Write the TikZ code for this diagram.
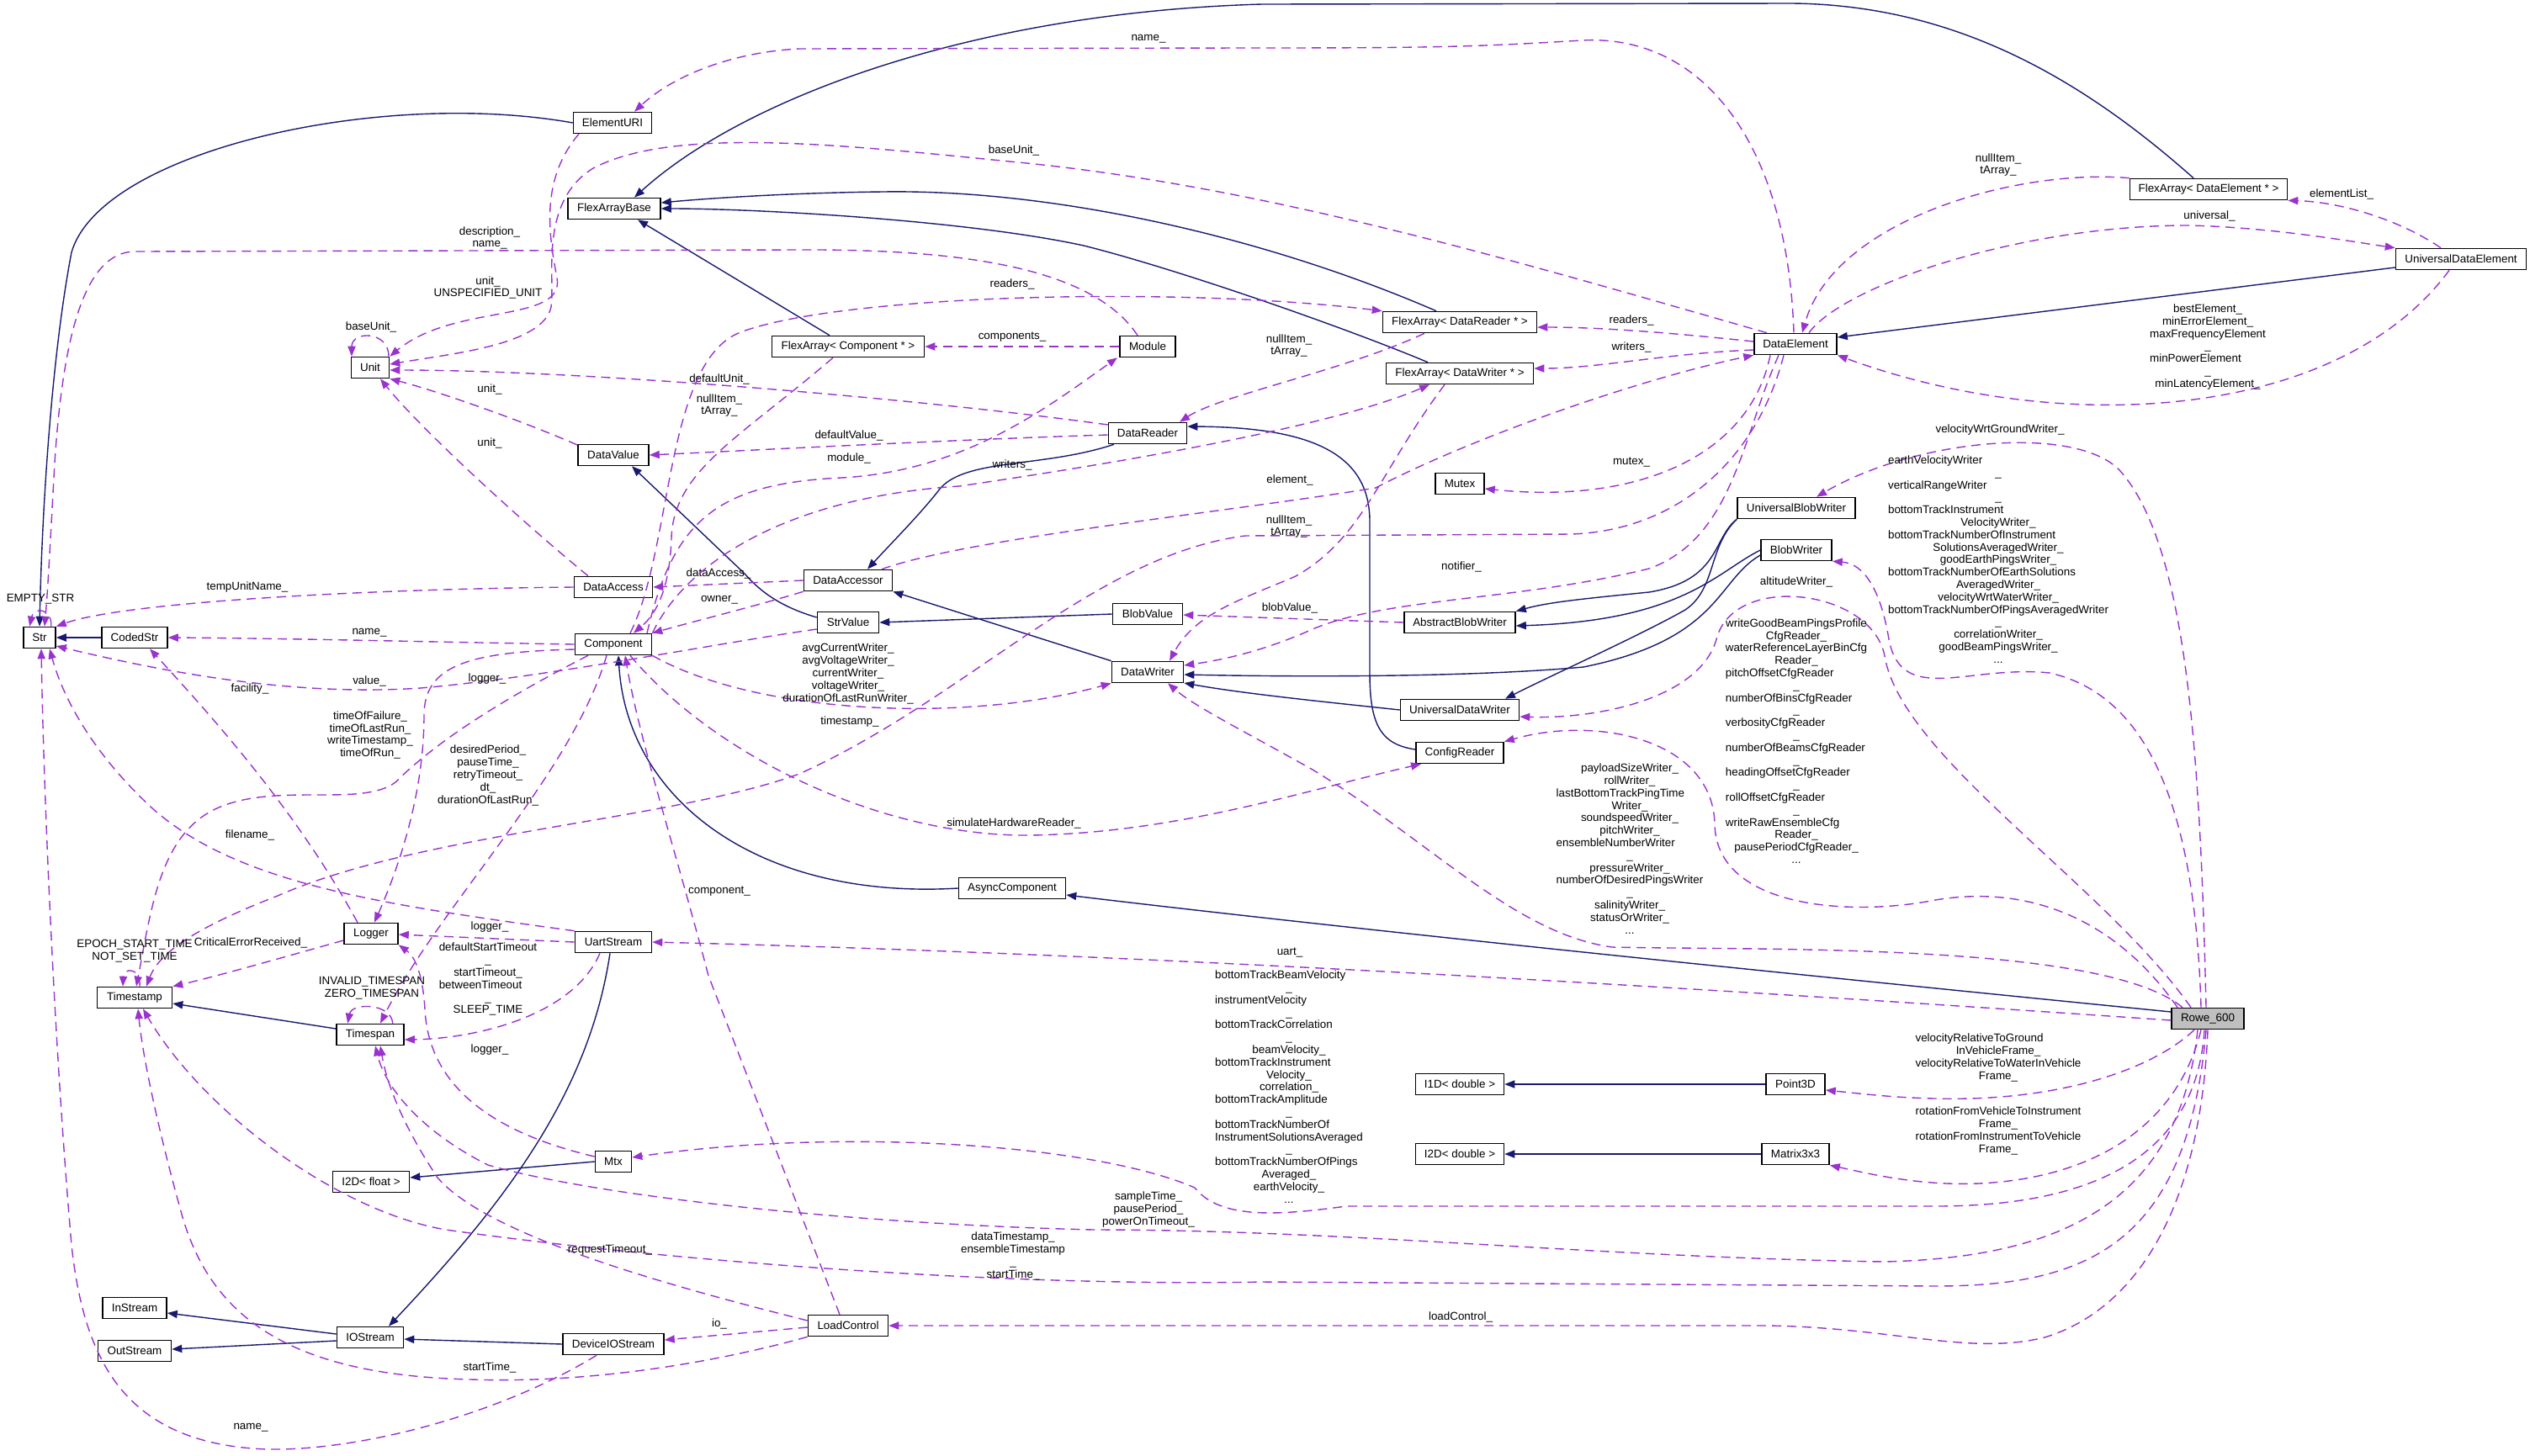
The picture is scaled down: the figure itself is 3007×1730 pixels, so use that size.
\documentclass[tikz,border=0pt]{standalone}
\usepackage{fontspec}
\setmainfont{Liberation Sans}
\usetikzlibrary{arrows.meta}
\definecolor{inhBlue}{HTML}{191970}
\definecolor{usePurple}{HTML}{9A32CD}
\definecolor{mainGray}{HTML}{BFBFBF}
\newcommand{\ml}[1]{\multicolumn{1}{@{}l@{}}{#1}}

\begin{document}
\begin{tikzpicture}[x=0.5pt, y=-0.5pt, font=\fontsize{6.7}{7.4}\selectfont,
        >={Triangle[length=6pt,width=4.6pt]},
        cls/.style={draw=black, line width=0.8pt, fill=white, minimum height=12.5pt, inner xsep=0pt, inner ysep=0pt},
        inh/.style={->, inhBlue, line width=0.7pt},
        usage/.style={->, usePurple, line width=0.7pt, dash pattern=on 5.5pt off 3.5pt},
        lbl/.style={inner sep=0pt, align=center}]
    \useasboundingbox (0,0) rectangle (3007,1730);

    \node[cls, minimum width=19pt] (str) at (47,758) {Str};
    \node[cls, minimum width=39pt] (codedstr) at (160,758) {CodedStr};
    \node[cls, minimum width=46.5pt] (elementuri) at (728,146) {ElementURI};
    \node[cls, minimum width=55pt] (flexbase) at (730,248) {FlexArrayBase};
    \node[cls, minimum width=22.5pt] (unit) at (440,437) {Unit};
    \node[cls, minimum width=42pt] (datavalue) at (729,541) {DataValue};
    \node[cls, minimum width=46.5pt] (dataaccess) at (729,698) {DataAccess};
    \node[cls, minimum width=45.5pt] (component) at (729,766) {Component};
    \node[cls, minimum width=32pt] (logger) at (441,1110) {Logger};
    \node[cls, minimum width=45.5pt] (uart) at (729,1120) {UartStream};
    \node[cls, minimum width=44.5pt] (timestamp) at (160,1186) {Timestamp};
    \node[cls, minimum width=40pt] (timespan) at (440,1230) {Timespan};
    \node[cls, minimum width=21.5pt] (mtx) at (729,1381) {Mtx};
    \node[cls, minimum width=45.5pt] (i2dfloat) at (441,1405) {I2D< float >};
    \node[cls, minimum width=38pt] (instream) at (160,1555) {InStream};
    \node[cls, minimum width=39.5pt] (iostream) at (440,1590) {IOStream};
    \node[cls, minimum width=43.5pt] (outstream) at (160,1606) {OutStream};
    \node[cls, minimum width=60pt] (deviceio) at (729,1598) {DeviceIOStream};
    \node[cls, minimum width=90.5pt] (flexcomp) at (1008,412) {FlexArray< Component * >};
    \node[cls, minimum width=33pt] (module) at (1364,412) {Module};
    \node[cls, minimum width=46.5pt] (datareader) at (1364,515) {DataReader};
    \node[cls, minimum width=52.5pt] (dataaccessor) at (1008,690) {DataAccessor};
    \node[cls, minimum width=36.5pt] (strvalue) at (1008,740) {StrValue};
    \node[cls, minimum width=41.5pt] (blobvalue) at (1364,730) {BlobValue};
    \node[cls, minimum width=42.5pt] (datawriter) at (1364,799) {DataWriter};
    \node[cls, minimum width=63.5pt] (asynccomp) at (1203,1056) {AsyncComponent};
    \node[cls, minimum width=47.5pt] (loadcontrol) at (1008,1576) {LoadControl};
    \node[cls, minimum width=91.5pt] (flexreader) at (1735,383) {FlexArray< DataReader * >};
    \node[cls, minimum width=87.5pt] (flexwriter) at (1735,444) {FlexArray< DataWriter * >};
    \node[cls, minimum width=29pt] (mutex) at (1735,575) {Mutex};
    \node[cls, minimum width=66pt] (abstractblob) at (1735,740) {AbstractBlobWriter};
    \node[cls, minimum width=70.5pt] (univdatawriter) at (1735,844) {UniversalDataWriter};
    \node[cls, minimum width=52pt] (configreader) at (1735,895) {ConfigReader};
    \node[cls, minimum width=52.5pt] (i1ddouble) at (1735,1289) {I1D< double >};
    \node[cls, minimum width=52.5pt] (i2ddouble) at (1735,1372) {I2D< double >};
    \node[cls, minimum width=49pt] (dataelement) at (2134,409) {DataElement};
    \node[cls, minimum width=70pt] (univblob) at (2135,604) {UniversalBlobWriter};
    \node[cls, minimum width=42pt] (blobwriter) at (2135,654) {BlobWriter};
    \node[cls, minimum width=35pt] (point3d) at (2134,1289) {Point3D};
    \node[cls, minimum width=40pt] (matrix) at (2134,1372) {Matrix3x3};
    \node[cls, minimum width=93.5pt] (flexelement) at (2625,225) {FlexArray< DataElement * >};
    \node[cls, minimum width=77.5pt] (univelement) at (2925,308) {UniversalDataElement};
    \node[cls, minimum width=43pt, fill=mainGray] (rowe) at (2624,1211) {Rowe\_600};

    \draw[inh] (codedstr.west) -- (str.east);
    \draw[inh] (elementuri.west) .. controls (450,105) and (120,180) .. (85,300) .. controls (62,420) and (50,600) .. (str.north);
    \draw[inh] ([xshift=-9pt]flexelement.north) .. controls (2470,90) and (2320,6) .. (2130,4) -- (1500,5) .. controls (1150,15) and (880,120) .. ([xshift=12pt]flexbase.north);
    \draw[inh] ([xshift=-14pt]flexreader.north) .. controls (1500,280) and (1250,225) .. (1050,228) .. controls (950,229) and (850,235) .. ([yshift=3.5pt]flexbase.east);
    \draw[inh] ([xshift=-19pt]flexwriter.north) .. controls (1600,390) and (1400,320) .. (1288,292) .. controls (1150,262) and (900,248) .. (flexbase.east);
    \draw[inh] ([xshift=-11pt]flexcomp.north) -- ([xshift=14pt]flexbase.south);
    \draw[inh] ([yshift=-5pt]univelement.west) -- ([yshift=4pt]dataelement.east);
    \draw[inh] ([xshift=-20pt]datareader.south) .. controls (1240,556) and (1150,545) .. (1118,580) .. controls (1095,610) and (1060,645) .. ([xshift=11.5pt]dataaccessor.north);
    \draw[inh] (datawriter.north west) -- (dataaccessor.south east);
    \draw[inh] (blobvalue.west) -- (strvalue.east);
    \draw[inh] ([yshift=3pt]strvalue.west) .. controls (930,722) and (905,705) .. (885,682) -- ([xshift=11pt]datavalue.south);
    \draw[inh] (univblob.south west) .. controls (2035,640) and (2045,690) .. (1960,704) .. controls (1880,712) and (1840,716) .. (abstractblob.north east);
    \draw[inh] (univblob.south west) .. controls (2030,650) and (2040,700) .. (2003,725) .. controls (1950,755) and (1850,800) .. ([xshift=27pt]univdatawriter.north);
    \draw[inh] (blobwriter.west) .. controls (2040,680) and (2000,738) .. ([yshift=-2pt]abstractblob.east);
    \draw[inh] ([yshift=-3pt]blobwriter.west) .. controls (2040,690) and (2045,760) .. (1882,793) .. controls (1750,805) and (1550,805) .. ([yshift=-1.5pt]datawriter.east);
    \draw[inh] (univdatawriter.west) .. controls (1580,835) and (1480,825) .. ([yshift=-6.5pt]datawriter.east);
    \draw[inh] ([yshift=2pt]configreader.west) .. controls (1640,885) and (1628,860) .. (1628,800) -- (1628,620) .. controls (1628,540) and (1560,508) .. ([yshift=4pt]datareader.east);
    \draw[inh] (asynccomp.west) .. controls (900,1070) and (745,950) .. ([xshift=3pt]component.south);
    \draw[inh] ([yshift=4pt]rowe.west) .. controls (2250,1170) and (1650,1110) .. ([yshift=-4pt]asynccomp.east);
    \draw[inh] ([xshift=-2pt]uart.south) .. controls (700,1300) and (600,1430) .. ([xshift=11pt]iostream.north);
    \draw[inh] ([yshift=2pt]iostream.west) -- ([yshift=-3pt]instream.east);
    \draw[inh] ([yshift=-2pt]iostream.west) -- ([yshift=1pt]outstream.east);
    \draw[inh] (deviceio.west) -- ([yshift=-1pt]iostream.east);
    \draw[inh] ([yshift=3.5pt]timespan.west) -- ([yshift=-3.5pt]timestamp.east);
    \draw[inh] (mtx.west) -- ([yshift=2.5pt]i2dfloat.east);
    \draw[inh] (point3d.west) -- (i1ddouble.east);
    \draw[inh] (matrix.west) -- (i2ddouble.east);

    \draw[usage] ([xshift=-1pt]dataelement.north) .. controls (2125,180) and (2030,40) .. (1880,48) .. controls (1750,56) and (1700,57) .. (1480,57) -- (950,58) .. controls (870,62) and (800,90) .. ([xshift=13pt]elementuri.north);
    \node[lbl] (l-name1) at (1365,46) {name\_};
    \draw[usage] ([xshift=-17pt]dataelement.north) .. controls (1800,310) and (1500,220) .. (1200,192) .. controls (1000,172) and (800,150) .. (705,200) .. controls (640,240) and (660,330) .. (655,365) .. controls (645,410) and (540,420) .. ([yshift=2pt]unit.east);
    \node[lbl] (l-baseunit1) at (1205,179) {baseUnit\_};
    \draw[usage] ([xshift=-20pt]elementuri.south) .. controls (645,210) and (650,270) .. (662,330) .. controls (672,385) and (540,360) .. (unit.north east);
    \node[lbl] (l-unit0) at (580,342) {unit\_\\UNSPECIFIED\_UNIT};
    \draw[usage] ([xshift=-6pt]module.north) .. controls (1300,320) and (1150,296) .. (950,297) -- (160,299) .. controls (100,300) and (75,400) .. (65,550) .. controls (60,640) and (57,700) .. ([xshift=3pt]str.north);
    \node[lbl] (l-desc) at (582,283) {description\_\\name\_};
    \draw[usage] ([yshift=5pt]datareader.west) .. controls (1100,475) and (700,440) .. ([yshift=-1.5pt]unit.east);
    \node[lbl] (l-defunit) at (855,451) {defaultUnit\_};
    \draw[usage] ([yshift=6pt]datavalue.west) .. controls (620,500) and (520,465) .. (unit.south east);
    \node[lbl] (l-unit1) at (582,463) {unit\_};
    \draw[usage] ([xshift=-15pt]dataaccess.north) .. controls (620,620) and (500,510) .. ([xshift=6pt]unit.south);
    \node[lbl] (l-unit2) at (582,527) {unit\_};
    \draw[usage] ([xshift=11pt]unit.north) .. controls (462,393) and (418,393) .. ([xshift=-11pt]unit.north);
    \node[lbl] (l-baseunit2) at (441,389) {baseUnit\_};
    \draw[usage] (dataaccess.west) .. controls (450,700) and (150,715) .. (str.north east);
    \node[lbl] (l-tempunit) at (294,698) {tempUnitName\_};
    \draw[usage] (component.west) .. controls (500,763) and (350,759) .. (codedstr.east);
    \node[lbl] (l-name2) at (439,752) {name\_};
    \draw[usage] ([yshift=-4pt]strvalue.west) .. controls (850,765) and (650,805) .. (500,818) .. controls (350,828) and (200,800) .. ([yshift=-5pt]str.east);
    \node[lbl] (l-value) at (439,810) {value\_};
    \draw[usage] ([xshift=-8pt]logger.north) .. controls (350,960) and (250,850) .. ([xshift=9pt]codedstr.south);
    \node[lbl] (l-facility) at (297,819) {facility\_};
    \draw[usage] ([yshift=-3pt]component.west) .. controls (560,775) and (504,790) .. (504,850) .. controls (504,950) and (470,1040) .. ([xshift=2pt]logger.north);
    \node[lbl] (l-logger1) at (579,807) {logger\_};
    \draw[usage] ([xshift=-15pt]component.south) .. controls (600,830) and (520,880) .. (470,930) .. controls (430,960) and (330,930) .. (260,960) .. controls (190,990) and (180,1080) .. ([xshift=1pt]timestamp.north);
    \node[lbl] (l-timeof) at (440,874) {timeOfFailure\_\\timeOfLastRun\_\\writeTimestamp\_\\timeOfRun\_};
    \draw[usage] ([xshift=-4pt]component.south) .. controls (680,920) and (520,1080) .. ([xshift=6pt]timespan.north);
    \node[lbl] (l-desired) at (580,922) {desiredPeriod\_\\pauseTime\_\\retryTimeout\_\\dt\_\\durationOfLastRun\_};
    \draw[usage] (dataaccessor.south west) .. controls (900,720) and (820,740) .. (component.north east);
    \node[lbl] (l-owner) at (855,713) {owner\_};
    \draw[usage] (dataaccessor.west) -- (dataaccess.east);
    \node[lbl] (l-dataaccess) at (854,682) {dataAccess\_};
    \draw[usage] ([xshift=10pt]component.north) .. controls (800,650) and (790,430) .. (880,395) .. controls (1000,350) and (1400,340) .. (flexreader.north west);
    \node[lbl] (l-readers1) at (1203,338) {readers\_};
    \draw[usage] ([xshift=-9pt]flexcomp.south) .. controls (880,520) and (800,560) .. (798,640) .. controls (796,700) and (780,730) .. ([xshift=12pt]component.north);
    \node[lbl] (l-nullcomp) at (855,482) {nullItem\_\\tArray\_};
    \draw[usage] (module.west) -- (flexcomp.east);
    \node[lbl] (l-components) at (1203,401) {components\_};
    \draw[usage] ([xshift=20pt]component.north) .. controls (800,620) and (850,575) .. (1000,568) .. controls (1150,560) and (1250,480) .. ([xshift=-18pt]module.south);
    \node[lbl] (l-module) at (1009,545) {module\_};
    \draw[usage] ([yshift=-1pt]datareader.west) .. controls (1150,522) and (900,535) .. (datavalue.east);
    \node[lbl] (l-defvalue) at (1009,518) {defaultValue\_};
    \draw[usage] (component.north east) .. controls (820,660) and (950,590) .. (1140,578) .. controls (1400,540) and (1600,500) .. ([xshift=-18pt]flexwriter.south);
    \node[lbl] (l-writers1) at (1203,553) {writers\_};
    \draw[usage] ([yshift=1.5pt]dataelement.west) .. controls (1980,395) and (1900,389) .. ([yshift=-3pt]flexreader.east);
    \node[lbl] (l-readers2) at (1939,381) {readers\_};
    \draw[usage] ([yshift=-3.5pt]dataelement.west) .. controls (1980,420) and (1900,438) .. ([yshift=3pt]flexwriter.east);
    \node[lbl] (l-writers2) at (1939,413) {writers\_};
    \draw[usage] ([xshift=-21pt]flexreader.south) .. controls (1600,440) and (1450,470) .. ([xshift=19pt]datareader.north);
    \node[lbl] (l-nullreader) at (1532,411) {nullItem\_\\tArray\_};
    \draw[usage] ([xshift=-9pt]flexwriter.south) .. controls (1640,560) and (1620,640) .. (1540,685) .. controls (1470,715) and (1420,730) .. ([xshift=13pt]datawriter.north);
    \node[lbl] (l-nullwriter) at (1532,626) {nullItem\_\\tArray\_};
    \draw[usage] ([xshift=20pt]dataaccessor.north) .. controls (1150,640) and (1450,610) .. (1635,580) .. controls (1750,520) and (1950,450) .. (dataelement.south west);
    \node[lbl] (l-element) at (1533,571) {element\_};
    \draw[usage] ([xshift=-15pt]dataelement.south) .. controls (2080,540) and (1950,600) .. ([yshift=-3pt]mutex.east);
    \node[lbl] (l-mutex) at (1939,549) {mutex\_};
    \draw[usage] ([xshift=-10pt]dataelement.south) .. controls (2070,520) and (2060,640) .. (1960,676) .. controls (1800,715) and (1650,710) .. (1560,748) .. controls (1500,775) and (1450,785) .. ([yshift=4pt]datawriter.east);
    \node[lbl] (l-notifier) at (1737,674) {notifier\_};
    \draw[usage] ([xshift=-7pt]dataelement.south) .. controls (2090,540) and (2000,630) .. (1868,635) -- (1480,637) .. controls (1300,660) and (1150,830) .. (950,920) .. controls (800,975) and (500,990) .. (330,1065) .. controls (240,1100) and (190,1130) .. ([xshift=7pt]timestamp.north);
    \node[lbl] (l-timestamp) at (1010,858) {timestamp\_};
    \draw[usage] (abstractblob.west) -- ([yshift=-0.5pt]blobvalue.east);
    \node[lbl] (l-blobvalue) at (1533,723) {blobValue\_};
    \draw[usage] ([xshift=8pt]dataelement.north) .. controls (2190,340) and (2400,268) .. (2600,268) .. controls (2700,270) and (2800,288) .. (univelement.north west);
    \node[lbl] (l-universal) at (2626,257) {universal\_};
    \draw[usage] ([xshift=-12pt]univelement.north) .. controls (2850,260) and (2780,240) .. (flexelement.south east);
    \node[lbl] (l-elementlist) at (2783,231) {elementList\_};
    \draw[usage] (flexelement.north west) .. controls (2400,200) and (2180,260) .. ([xshift=4pt]dataelement.north);
    \node[lbl] (l-nullelement) at (2375,196) {nullItem\_\\tArray\_};
    \draw[usage] ([xshift=-7pt]univelement.south) .. controls (2780,500) and (2450,520) .. (dataelement.south east);
    \node[lbl] (l-best) at (2624,413) {\begin{tabular}{@{}c@{}}bestElement\_\\minErrorElement\_\\maxFrequencyElement\\\_\\\ml{minPowerElement}\\\_\\minLatencyElement\_\end{tabular}};

    \draw[usage] ([xshift=-1pt]rowe.north) .. controls (2615,900) and (2600,650) .. (2520,560) .. controls (2470,505) and (2280,520) .. ([xshift=12pt]univblob.north);
    \node[lbl] (l-velground) at (2377,511) {velocityWrtGroundWriter\_};
    \draw[usage] ([xshift=-4pt]rowe.north) .. controls (2610,1000) and (2570,830) .. (2436,800) .. controls (2340,790) and (2260,840) .. (2245,760) .. controls (2235,700) and (2215,670) .. (blobwriter.south east);
    \node[lbl] (l-earth) at (2375,667) {\begin{tabular}{@{}c@{}}\ml{earthVelocityWriter}\\\_\\\ml{verticalRangeWriter}\\\_\\\ml{bottomTrackInstrument}\\VelocityWriter\_\\\ml{bottomTrackNumberOfInstrument}\\SolutionsAveragedWriter\_\\goodEarthPingsWriter\_\\\ml{bottomTrackNumberOfEarthSolutions}\\AveragedWriter\_\\velocityWrtWaterWriter\_\\bottomTrackNumberOfPingsAveragedWriter\\\_\\correlationWriter\_\\goodBeamPingsWriter\_\\...\end{tabular}};
    \draw[usage] ([xshift=-10pt]rowe.north) .. controls (2500,1050) and (2260,900) .. (2240,780) .. controls (2225,700) and (2060,680) .. (2040,760) .. controls (2020,830) and (1900,855) .. ([yshift=-4pt]univdatawriter.east);
    \node[lbl] (l-altitude) at (2135,692) {altitudeWriter\_};
    \draw[usage] ([xshift=-18pt]rowe.north) .. controls (2520,1100) and (2420,1050) .. (2300,1070) .. controls (2200,1090) and (2040,1080) .. (2038,980) .. controls (2036,880) and (1900,850) .. (configreader.north east);
    \node[lbl] (l-cfg) at (2135,883) {\begin{tabular}{@{}c@{}}writeGoodBeamPingsProfile\\CfgReader\_\\waterReferenceLayerBinCfg\\Reader\_\\\ml{pitchOffsetCfgReader}\\\_\\\ml{numberOfBinsCfgReader}\\\_\\\ml{verbosityCfgReader}\\\_\\\ml{numberOfBeamsCfgReader}\\\_\\\ml{headingOffsetCfgReader}\\\_\\\ml{rollOffsetCfgReader}\\\_\\\ml{writeRawEnsembleCfg}\\Reader\_\\pausePeriodCfgReader\_\\...\end{tabular}};
    \draw[usage] ([xshift=-15pt]rowe.north) .. controls (2500,1120) and (2100,1130) .. (1916,1126) .. controls (1800,1110) and (1700,1000) .. (1560,915) .. controls (1480,870) and (1420,840) .. ([xshift=12pt]datawriter.south);
    \node[lbl] (l-payload) at (1937,1011) {\begin{tabular}{@{}c@{}}payloadSizeWriter\_\\rollWriter\_\\\ml{lastBottomTrackPingTime}\\Writer\_\\soundspeedWriter\_\\pitchWriter\_\\\ml{ensembleNumberWriter}\\\_\\pressureWriter\_\\numberOfDesiredPingsWriter\\\_\\salinityWriter\_\\statusOrWriter\_\\...\end{tabular}};
    \draw[usage] ([yshift=-1pt]rowe.west) .. controls (2100,1180) and (1400,1135) .. (uart.east);
    \node[lbl] (l-uart) at (1533,1132) {uart\_};
    \draw[usage] ([xshift=-2pt]rowe.south) .. controls (2610,1380) and (2480,1434) .. (2300,1434) -- (1600,1434) .. controls (1520,1445) and (1450,1450) .. (1420,1412) .. controls (1300,1360) and (1000,1340) .. ([yshift=2.5pt]mtx.east);
    \node[lbl] (l-btbeam) at (1532,1294) {\begin{tabular}{@{}c@{}}\ml{bottomTrackBeamVelocity}\\\_\\\ml{instrumentVelocity}\\\_\\\ml{bottomTrackCorrelation}\\\_\\beamVelocity\_\\\ml{bottomTrackInstrument}\\Velocity\_\\correlation\_\\\ml{bottomTrackAmplitude}\\\_\\\ml{bottomTrackNumberOf}\\InstrumentSolutionsAveraged\\\_\\\ml{bottomTrackNumberOfPings}\\Averaged\_\\earthVelocity\_\\...\end{tabular}};
    \draw[usage] ([xshift=-8pt]rowe.south) .. controls (2560,1270) and (2450,1310) .. (2300,1306) .. controls (2250,1305) and (2210,1300) .. ([yshift=-3.5pt]point3d.east);
    \node[lbl] (l-velrel) at (2375,1258) {\begin{tabular}{@{}c@{}}\ml{velocityRelativeToGround}\\InVehicleFrame\_\\velocityRelativeToWaterInVehicle\\Frame\_\end{tabular}};
    \draw[usage] ([xshift=-4pt]rowe.south) .. controls (2590,1330) and (2500,1400) .. (2352,1407) .. controls (2280,1410) and (2220,1395) .. (matrix.south east);
    \node[lbl] (l-rotation) at (2375,1345) {\begin{tabular}{@{}c@{}}rotationFromVehicleToInstrument\\Frame\_\\\ml{rotationFromInstrumentToVehicle}\\Frame\_\end{tabular}};
    \draw[usage] ([xshift=-6pt]rowe.south) .. controls (2590,1430) and (2450,1495) .. (2240,1500) .. controls (1900,1495) and (1600,1462) .. (1300,1462) .. controls (1000,1455) and (700,1420) .. (580,1385) .. controls (510,1350) and (460,1300) .. ([xshift=3pt]timespan.south);
    \node[lbl] (l-sample) at (1365,1438) {sampleTime\_\\pausePeriod\_\\powerOnTimeout\_};
    \draw[usage] ([xshift=-1pt]rowe.south) .. controls (2600,1480) and (2480,1529) .. (2300,1529) -- (1500,1524) .. controls (1200,1530) and (800,1500) .. (530,1462) .. controls (400,1440) and (240,1320) .. ([xshift=5pt]timestamp.south);
    \node[lbl] (l-datats) at (1204,1494) {\begin{tabular}{@{}c@{}}dataTimestamp\_\\\ml{ensembleTimestamp}\\\_\\startTime\_\end{tabular}};
    \draw[usage] (rowe.south) .. controls (2615,1450) and (2530,1560) .. (2430,1590) .. controls (2340,1612) and (2250,1578) .. (2100,1576) -- (loadcontrol.east);
    \node[lbl] (l-loadcontrol) at (1736,1566) {loadControl\_};

    \draw[usage] ([yshift=3pt]loadcontrol.west) .. controls (800,1530) and (580,1470) .. (520,1400) .. controls (480,1340) and (460,1290) .. ([xshift=6pt]timespan.south);
    \node[lbl] (l-request) at (725,1486) {requestTimeout\_};
    \draw[usage] ([yshift=-1pt]loadcontrol.west) -- ([yshift=2.5pt]deviceio.east);
    \node[lbl] (l-io) at (855,1574) {io\_};
    \draw[usage] (loadcontrol.south west) .. controls (850,1620) and (700,1645) .. (560,1640) .. controls (350,1635) and (250,1570) .. (215,1440) .. controls (190,1350) and (170,1260) .. ([xshift=2pt]timestamp.south);
    \node[lbl] (l-starttime) at (582,1626) {startTime\_};
    \draw[usage] ([xshift=-5pt]loadcontrol.north) -- (842,1160) .. controls (800,1000) and (760,880) .. ([xshift=7pt]component.south);
    \node[lbl] (l-component) at (855,1060) {component\_};
    \draw[usage] ([xshift=-10pt]deviceio.south) .. controls (580,1690) and (400,1730) .. (300,1722) .. controls (150,1710) and (100,1620) .. (85,1480) .. controls (65,1250) and (52,950) .. ([xshift=1pt]str.south);
    \node[lbl] (l-name3) at (298,1697) {name\_};
    \draw[usage] (uart.north west) .. controls (450,1075) and (280,1050) .. (180,960) .. controls (110,895) and (75,830) .. ([xshift=6pt]str.south);
    \node[lbl] (l-filename) at (297,993) {filename\_};
    \draw[usage] (uart.west) -- ([yshift=-0.5pt]logger.east);
    \node[lbl] (l-logger2) at (582,1102) {logger\_};
    \draw[usage] ([xshift=-8pt]uart.south) .. controls (680,1210) and (560,1235) .. ([yshift=-3pt]timespan.east);
    \node[lbl] (l-defstart) at (580,1165) {\begin{tabular}{@{}c@{}}\ml{defaultStartTimeout}\\\_\\startTimeout\_\\\ml{betweenTimeout}\\\_\\SLEEP\_TIME\end{tabular}};
    \draw[usage] ([yshift=3pt]mtx.west) .. controls (600,1350) and (510,1300) .. (505,1200) .. controls (502,1150) and (490,1135) .. (logger.south east);
    \node[lbl] (l-logger3) at (582,1248) {logger\_};
    \draw[usage] ([yshift=-4pt]logger.west) .. controls (330,1140) and (260,1160) .. (timestamp.north east);
    \node[lbl] (l-critical) at (298,1121) {CriticalErrorReceived\_};
    \draw[usage] ([xshift=3pt]timestamp.north) .. controls (168,1150) and (147,1150) .. ([xshift=-7pt]timestamp.north);
    \node[lbl] (l-epoch) at (160,1131) {EPOCH\_START\_TIME\\NOT\_SET\_TIME};
    \draw[usage] ([xshift=-7pt]timespan.north east) .. controls (465,1192) and (418,1192) .. ([xshift=7pt]timespan.north west);
    \node[lbl] (l-invalid) at (442,1175) {INVALID\_TIMESPAN\\ZERO\_TIMESPAN};
    \draw[usage] ([xshift=-3pt]str.north east) .. controls (62,722) and (40,722) .. ([xshift=4pt]str.north west);
    \node[lbl] (l-empty) at (48,712) {EMPTY\_STR};
    \draw[usage] ([xshift=10pt]component.south) .. controls (850,900) and (1050,995) .. (1225,993) .. controls (1400,990) and (1550,940) .. ([xshift=-23pt]configreader.south);
    \node[lbl] (l-simulate) at (1205,979) {simulateHardwareReader\_};
    \draw[usage] (component.south east) .. controls (900,850) and (1150,860) .. (datawriter.south west);
    \node[lbl] (l-avg) at (1008,801) {avgCurrentWriter\_\\avgVoltageWriter\_\\currentWriter\_\\voltageWriter\_\\durationOfLastRunWriter\_};
\end{tikzpicture}
\end{document}
